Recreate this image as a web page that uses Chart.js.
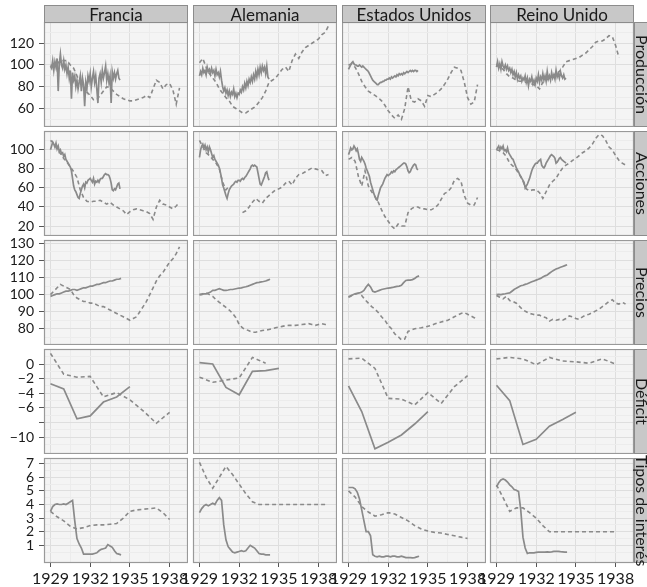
<!DOCTYPE html>
<html>
<head>
<meta charset="utf-8">
<script src="https://cdn.jsdelivr.net/npm/chart.js@4.4.1/dist/chart.umd.min.js"></script>
<style>
  body { margin: 0; width: 647px; height: 587px; position: relative; overflow: hidden; background: #fff; font-family: Lato, sans-serif; }
  canvas { position: absolute; }
  .strip { position: absolute; box-sizing: border-box; background: #c8c8c8; border: 1px solid #8c8c8c; color: #1a1a1a; font-size: 17px; display: flex; align-items: center; justify-content: center; white-space: nowrap; }
  .strip.side { font-size: 16px; }
  .strip.side span { writing-mode: vertical-rl; }
</style>
</head>
<body>
<script>
const countries = ["Francia", "Alemania", "Estados Unidos", "Reino Unido"];
const variables = ["Producción", "Acciones", "Precios", "Déficit", "Tipos de interés"];
const yearTicks = [1929, 1932, 1935, 1938];

// Producción (solid monthly, dashed quarterly)
const prodFrSolid = [99,97,104,95,103,98,106,76,101,110,100,97, 104,96,100,92,98,88,95,69,93,86,90,80, 86,78,84,90,76,88,82,62,84,78,90,85, 92,80,88,94,84,90,78,65,88,92,84,95, 88,93,99,86,92,84,90,65,94,88,93,87, 92,95,88,86];
const prodFrDash = [100,99,101,104,104,104,100,97,90,84,80,75,72,68,68,72,76,80,79,76,73,71,69,68,67,67,68,69,70,72,70,78,86,84,78,82,83,77,64,79];
const prodDeSolid = [90,94,91,97,93,95,91,98,94,96,92,97, 93,95,90,96,91,93,89,94,86,80,76,79, 74,77,72,76,71,75,73,78,71,74,70,74, 73,77,75,80,77,83,79,85,81,87,84,89, 85,91,87,94,89,96,91,98,93,99,95,98, 92,99,89,87];
const prodDeDash = [102,106,98,92,88,84,78,74,70,67,62,60,58,56,56,58,60,62,66,70,76,84,86,88,92,96,98,94,104,110,106,112,116,118,120,122,124,128,130,136];
const prodUsSolid = [96,98,100,102,103,101,100,100,99,99,100,99, 98,99,98,97,96,95,94,92,90,88,86,85, 84,83,82,82,83,84,84,85,85,86,86,87, 87,88,87,89,88,89,90,89,91,90,92,91, 92,91,93,92,93,94,93,94,95,94,95,94, 95,95,94,95];
const prodUsDash = [100,101,98,92,85,80,76,74,72,70,67,63,58,54,51,54,50,60,80,67,66,69,67,62,72,71,73,75,78,82,87,93,98,97,95,84,70,64,66,82];
const prodUkSolid = [98,103,97,101,96,103,99,97,100,96,99,95, 97,93,96,91,94,89,93,87,91,88,90,85, 88,86,90,84,88,81,87,85,89,83,86,82, 88,85,91,84,89,86,92,86,90,85,94,87, 90,86,93,88,91,87,95,89,92,88,94,90, 88,91,87,88];
const prodUkDash = [101,98,96,92,89,88,86,85,85,84,84,82,81,78,84,86,88,90,92,94,98,103,104,105,106,107,109,111,114,117,121,122,122,124,127,126,118,107];

// Acciones (solid monthly, dashed quarterly)
const accFrSolid = [100,104,108,106,103,107,101,104,98,100,96,97, 93,95,90,88,86,84,82,78,70,62,58,56, 53,50,49,54,58,62,64,60,66,65,68,69, 70,68,66,70,64,67,66,68,66,69,70,70, 72,74,75,74,74,73,70,65,58,57,59,58, 61,64,65,59];
const accFrDash = [110,107,101,96,91,87,82,77,71,58,50,46,45,46,46,47,45,43,45,42,40,38,36,32,35,37,38,37,36,35,33,27,40,47,43,42,40,38,41,45];
const accDeSolid = [92,100,104,106,102,105,100,103,98,103,100,96, 92,94,90,88,86,84,81,76,70,63,60,56, 52,49,54,58,60,62,63,64,66,67,66,68, 68,67,69,70,69,71,72,74,76,78,80,83, 84,83,84,83,82,76,70,64,63,66,69,72, 76,77,72,68];
const accDeDash = [110,103,97,94,90,86,80,66,58,62,null,null,null,34,36,40,45,49,46,44,49,52,55,58,59,61,65,67,63,70,74,75,77,79,81,80,79,78,73,74];
const accUsSolid = [95,98,102,100,101,104,102,99,101,96,90,88, 92,90,88,85,81,78,75,72,66,62,58,54, 51,48,47,52,56,60,62,64,67,70,72,74, 73,74,75,77,76,78,77,79,80,81,82,83, 84,85,86,86,85,82,78,76,77,80,82,84, 85,84,80,79];
const accUsDash = [90,92,88,72,62,78,62,56,51,45,37,30,25,20,17,22,20,20,34,38,40,40,38,38,37,37,39,42,48,54,56,60,68,70,67,52,44,42,42,50];
const accUkSolid = [100,102,104,100,103,101,104,99,100,98,102,97, 95,93,91,90,87,84,81,79,77,74,72,70, 68,66,60,62,64,67,70,74,78,81,83,85, 86,86,88,89,90,84,82,81,83,86,88,90, 92,94,95,94,93,91,86,87,89,91,92,90, 89,88,87,86];
const accUkDash = [100,99,97,93,86,83,79,74,67,59,57,58,58,55,49,56,63,67,70,76,81,84,86,89,91,94,97,99,102,106,112,116,115,110,103,100,94,89,86,84];

// Precios (solid every two months, dashed quarterly)
const priFrSolid = [99,99.5,100,100.5,100.5,101,101.5,102,102,102.5,103,103,102.5,103,103.5,104,104,104.5,105,105,105.5,106,106,106.5,107,107,107.5,108,108,108.5,109,109,109.5];
const priFrDash = [100,102,104,106,105,104,103,100,98,97,96,96,95,95,94,93,93,92,91,90,89,88,87,86,85,86,87,90,93,96,100,104,108,111,113,116,119,121,124,128];
const priDeSolid = [100,100,100.5,100.5,101,101.5,102.5,102.5,103,103.5,103,102.5,102.5,102.7,103,103,103.3,103.6,103.8,104,104.3,104.6,105,105.5,106,106.5,107,107.2,107.5,107.7,108,108.5,109];
const priDeDash = [100,100.5,101,100,99,97,95.5,94,92.5,91,89,86.5,82.5,80.5,79.6,78.8,78,78,78.5,79,79.2,79.6,80,80.6,81,81.4,81.8,82,82,82,82.2,82.5,82.7,83,82.5,82,82.5,83,82.5,82.4];
const priUsSolid = [98.5,99,100,100.5,100.8,101,101.5,102.5,104.5,106,104.5,102,101.5,102,102.5,103,103.3,103.6,103.8,104,104.2,104.5,104.8,105,105.5,107,108.3,108.5,108.5,108.8,109.5,110.5,111];
const priUsDash = [98.8,99.6,100.3,100.8,99.5,97,95,93,91.5,89.5,87,85,82,80,77,75.5,73.5,74,78.5,79.3,80,80.4,80.6,81,81.5,82,82.8,83.4,84,84.5,85,86,87,88,89,89.5,88.5,87.5,86.5,85.5];
const priUkSolid = [100,100.2,100,100.3,100.5,100.8,101,102,103,103.8,104.5,105.2,105.5,106,106.4,107,107.5,108,108.5,109,109.5,110.3,111,111.5,112.5,113.5,114.3,115,115.5,116,116.5,117,117.5];
const priUkDash = [99.5,98.5,97.5,99,96.5,96,95,93,91,90,89,88.5,88,88,87,86.5,84.5,85.5,85,85.5,85,86,87.5,87,86,85.5,87,88,88.5,89.5,90.5,91.5,93,94.5,96,97,95,94.5,95.5,94.5];

// Déficit (annual)
const defFrSolid = [-2.7,-3.4,-7.5,-7.1,-5.2,-4.5,-3.1];
const defFrDash = [1.45,-1.4,-1.8,-1.7,-4.5,-3.9,-4.9,-6.4,-8.1,-6.6];
const defDeSolid = [0.2,0,-3.2,-4.2,-1.0,-0.9,-0.6];
const defDeDash = [-1.8,-2.5,-2.2,-1.9,0.9,0.1];
const defUsSolid = [-3.0,-6.5,-11.6,-10.7,-9.7,-8.2,-6.5];
const defUsDash = [0.7,0.8,-0.6,-4.7,-4.8,-5.6,-3.9,-5.4,-3.1,-1.6];
const defUkSolid = [-2.9,-5.0,-11.0,-10.3,-8.5,-7.6,-6.6];
const defUkDash = [0.7,0.9,0.7,-0.1,0.9,0.4,0.3,0.1,0.7,0];

// Tipos de interés (solid every two months, dashed half-yearly)
const rateFrSolid = [3.5,3.85,4.0,4.05,4.0,4.0,4.05,4.0,4.1,4.2,4.3,2.8,1.5,1.1,0.8,0.35,0.35,0.35,0.35,0.35,0.4,0.45,0.6,0.7,0.75,0.8,1.05,0.95,0.85,0.6,0.4,0.35,0.3];
const rateFrDash = [3.5,3.1,2.8,2.4,2.2,2.3,2.45,2.5,2.5,2.55,2.6,3.0,3.5,3.6,3.65,3.7,3.75,3.4,2.9];
const rateDeSolid = [3.4,3.7,3.9,4.0,3.9,4.0,4.1,4.0,4.3,4.5,4.3,2.5,1.4,0.9,0.7,0.5,0.45,0.5,0.55,0.6,0.55,0.6,0.8,1.0,0.9,0.8,0.6,0.4,0.35,0.35,0.3,0.3,0.3];
const rateDeDash = [7.1,6.0,5.2,6.0,6.8,6.2,5.5,4.8,4.2,4.0,4.0,4.0,4.0,4.0,4.0,4.0,4.0,4.0,4.0,4.0];
const rateUsSolid = [5.25,5.25,5.25,5.15,4.9,4.4,3.6,2.8,2.0,2.0,1.7,0.3,0.2,0.15,0.2,0.15,0.15,0.2,0.2,0.15,0.2,0.2,0.15,0.15,0.2,0.15,0.1,0.1,0.1,0.08,0.1,0.15,0.2];
const rateUsDash = [5.0,4.55,3.85,3.45,3.15,3.25,3.4,3.3,3.05,2.8,2.45,2.2,2.05,1.95,1.9,1.8,1.7,1.6,1.5];
const rateUkSolid = [5.3,5.6,5.8,5.88,5.8,5.65,5.45,5.3,5.1,5.05,4.95,3.6,1.6,0.8,0.4,0.45,0.45,0.45,0.48,0.5,0.5,0.5,0.5,0.52,0.5,0.52,0.55,0.55,0.55,0.53,0.52,0.5,0.5];
const rateUkDash = [5.45,4.5,3.5,3.75,3.75,3.4,3.0,2.45,2.0,2.0,2.0,2.0,2.0,2.0,2.0,2.0,2.0,2.0,2.0];

const solidData = [
  [prodFrSolid, prodDeSolid, prodUsSolid, prodUkSolid],
  [accFrSolid, accDeSolid, accUsSolid, accUkSolid],
  [priFrSolid, priDeSolid, priUsSolid, priUkSolid],
  [defFrSolid, defDeSolid, defUsSolid, defUkSolid],
  [rateFrSolid, rateDeSolid, rateUsSolid, rateUkSolid]
];
const dashData = [
  [prodFrDash, prodDeDash, prodUsDash, prodUkDash],
  [accFrDash, accDeDash, accUsDash, accUkDash],
  [priFrDash, priDeDash, priUsDash, priUkDash],
  [defFrDash, defDeDash, defUsDash, defUkDash],
  [rateFrDash, rateDeDash, rateUsDash, rateUkDash]
];
const solidStep = [1/12, 1/12, 1/6, 1, 1/6];
const dashStep = [0.25, 0.25, 0.25, 1, 0.5];

// axis set-up per row
const yRange = [[43, 139.5], [9.5, 119.8], [70.5, 132], [-12.3, 2.05], [-0.3, 7.42]];
const yMajor = [[60,80,100,120], [20,40,60,80,100], [80,90,100,110,120,130], [0,-2,-4,-6,-8,-10], [1,2,3,4,5,6,7]];
const yMinor = [[50,70,90,110,130], [10,30,50,70,90,110], [75,85,95,105,115,125], [1,-1,-3,-5,-7,-9,-11], [0.5,1.5,2.5,3.5,4.5,5.5,6.5]];
const yLabelled = [[60,80,100,120], [20,40,60,80,100], [80,90,100,110,120,130], [0,-2,-4,-6,-10], [1,2,3,4,5,6,7]];
const xMinor = [1930.5, 1933.5, 1936.5];

const panelLeft = [44, 193, 342, 490];
const panelTop = [22, 131, 240, 349, 458];
const PW = 144, PH = 105;
const LINE = "#8a8a8a";

Chart.defaults.font.family = "Lato, sans-serif";

function toPoints(values, step) {
  return values.map((v, i) => ({ x: 1929 + i * step, y: v }));
}

const panelFrame = {
  id: "panelFrame",
  beforeDraw(chart) {
    const a = chart.chartArea, ctx = chart.ctx;
    ctx.save();
    ctx.fillStyle = "#f4f4f4";
    ctx.fillRect(a.left, a.top, a.right - a.left, a.bottom - a.top);
    ctx.restore();
  },
  afterDraw(chart) {
    const a = chart.chartArea, ctx = chart.ctx;
    ctx.save();
    ctx.strokeStyle = "#999";
    ctx.lineWidth = 1.2;
    ctx.strokeRect(a.left + 0.5, a.top + 0.5, a.right - a.left - 1, a.bottom - a.top - 1);
    ctx.restore();
  }
};

function fmt(v) {
  return v < 0 ? "\u2212" + Math.abs(v) : String(v);
}

function makePanel(r, c) {
  const padLeft = c === 0 ? 44 : (r === 4 ? 20 : 0);
  const padTop = c === 0 ? 8 : 0;
  const padBottom = r === 4 ? 24 : 0;
  const cv = document.createElement("canvas");
  cv.width = PW + padLeft;
  cv.height = PH + padTop + padBottom;
  cv.style.left = (panelLeft[c] - padLeft) + "px";
  cv.style.top = (panelTop[r] - padTop) + "px";
  cv.style.width = cv.width + "px";
  cv.style.height = cv.height + "px";
  document.body.appendChild(cv);

  const isMajorY = v => yMajor[r].includes(v);
  const isMajorX = v => yearTicks.includes(v);

  new Chart(cv, {
    type: "line",
    data: {
      datasets: [
        { data: toPoints(solidData[r][c], solidStep[r]), borderColor: LINE, borderWidth: 1.7, pointRadius: 0, tension: 0, spanGaps: false },
        { data: toPoints(dashData[r][c], dashStep[r]), borderColor: LINE, borderWidth: 1.6, borderDash: [4, 3], pointRadius: 0, tension: 0, spanGaps: false }
      ]
    },
    options: {
      responsive: false,
      animation: false,
      devicePixelRatio: 1,
      layout: { padding: { left: c === 0 ? 0 : padLeft, right: 0, top: padTop, bottom: 0 } },
      plugins: { legend: { display: false }, tooltip: { enabled: false } },
      scales: {
        x: {
          type: "linear",
          min: 1928.51,
          max: 1939.39,
          afterBuildTicks: s => { s.ticks = yearTicks.concat(xMinor).sort((a, b) => a - b).map(v => ({ value: v })); },
          afterFit: s => { s.height = r === 4 ? padBottom : 0; s.paddingLeft = 0; s.paddingRight = 0; },
          border: { display: false },
          grid: {
            drawTicks: r === 4,
            tickLength: 4,
            color: ctx => isMajorX(ctx.tick.value) ? "#dedede" : "#ececec",
            tickColor: ctx => isMajorX(ctx.tick.value) ? "#555" : "rgba(0,0,0,0)"
          },
          ticks: {
            display: r === 4,
            autoSkip: false,
            maxRotation: 0,
            padding: 2,
            color: "#1a1a1a",
            font: { size: 16 },
            callback: v => isMajorX(v) ? String(v) : ""
          }
        },
        y: {
          min: yRange[r][0],
          max: yRange[r][1],
          afterBuildTicks: s => { s.ticks = yMajor[r].concat(yMinor[r]).sort((a, b) => a - b).map(v => ({ value: v })); },
          afterFit: s => { s.width = c === 0 ? 44 : 0; s.paddingTop = 0; s.paddingBottom = 0; },
          border: { display: false },
          grid: {
            drawTicks: c === 0,
            tickLength: 5,
            color: ctx => isMajorY(ctx.tick.value) ? "#dedede" : "#ececec",
            tickColor: ctx => isMajorY(ctx.tick.value) ? "#555" : "rgba(0,0,0,0)"
          },
          ticks: {
            display: c === 0,
            autoSkip: false,
            padding: 5,
            color: "#1a1a1a",
            font: { size: 14 },
            callback: v => yLabelled[r].includes(v) ? fmt(v) : ""
          }
        }
      }
    },
    plugins: [panelFrame]
  });
}

for (let r = 0; r < variables.length; r++) {
  for (let c = 0; c < countries.length; c++) makePanel(r, c);
}

countries.forEach((name, c) => {
  const d = document.createElement("div");
  d.className = "strip";
  d.style.left = panelLeft[c] + "px";
  d.style.top = "5px";
  d.style.width = PW + "px";
  d.style.height = "18px";
  d.innerHTML = "<span>" + name + "</span>";
  document.body.appendChild(d);
});

variables.forEach((name, r) => {
  const d = document.createElement("div");
  d.className = "strip side";
  d.style.left = "634px";
  d.style.top = panelTop[r] + "px";
  d.style.width = "17px";
  d.style.height = PH + "px";
  d.innerHTML = "<span>" + name + "</span>";
  document.body.appendChild(d);
});
</script>
</body>
</html>
